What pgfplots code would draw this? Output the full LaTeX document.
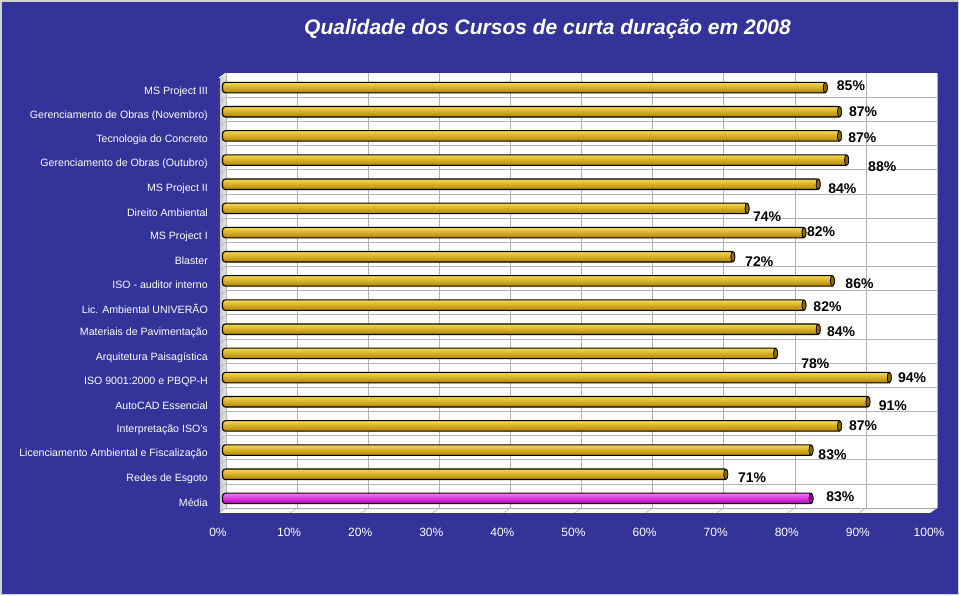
\documentclass[border=0pt]{standalone}
\usepackage{pgfplots}
\usepackage{pgfplotstable}
\pgfplotsset{compat=1.18}
\usepackage{fontspec}
\setmainfont{Liberation Sans}
\definecolor{bgblue}{HTML}{333399}
\definecolor{goldL}{HTML}{F8D850}
\definecolor{goldM}{HTML}{F2C000}
\definecolor{goldD}{HTML}{B08400}
\definecolor{capgold}{HTML}{8C6A00}
\definecolor{magL}{HTML}{FF70FF}
\definecolor{magM}{HTML}{FF00FF}
\definecolor{magD}{HTML}{B000B0}
\definecolor{capmag}{HTML}{900090}

\pgfplotstableread{
val cat
85 0
87 1
87 2
88 3
84 4
74 5
82 6
72 7
86 8
82 9
84 10
78 11
94 12
91 13
87 14
83 15
71 16
}\bars

\pgfplotstableread{
x y lab
85.9 0.04 85
87.6 1.11 87
87.5 2.19 87
90.3 3.39 88
84.7 4.30 84
74.1 5.46 74
81.7 6.08 82
73.0 7.32 72
87.1 8.23 86
82.6 9.18 82
84.5 10.22 84
80.9 11.54 78
94.5 12.12 94
91.8 13.28 91
87.6 14.10 87
83.3 15.30 83
72.0 16.26 71
84.4 17.04 83
}\labels

\begin{document}
\begin{tikzpicture}[x=1pt,y=1pt]
\fill[bgblue] (0,0) rectangle (959,-595);
\draw[gray!35, line width=1.5pt] (0.75,-0.75) rectangle (958.25,-594.25);
\node[font=\fontsize{21}{25}\selectfont\bfseries\itshape, text=white] at (547.5,-29) {Qualidade dos Cursos de curta duração em 2008};
\begin{axis}[
  at={(226pt,-73pt)}, anchor=north west,
  scale only axis, width=711pt, height=435pt,
  xmin=0, xmax=100, ymin=-0.5, ymax=17.5,
  y dir=reverse, clip=false,
  axis background/.style={fill=white},
  axis line style={draw=none},
  major tick length=0pt, minor tick length=0pt,
  xtick={0,10,...,100},
  xticklabels={0\%,10\%,20\%,30\%,40\%,50\%,60\%,70\%,80\%,90\%,100\%},
  xticklabel style={font=\fontsize{12}{14}\selectfont, text=white, inner sep=0pt, anchor=north, xshift=-8pt, yshift=-19.5pt},
  ytick={0,...,17},
  yticklabels={MS Project III, Gerenciamento de Obras (Novembro), Tecnologia do Concreto, Gerenciamento de Obras (Outubro), MS Project II, Direito Ambiental, MS Project I, Blaster, ISO - auditor interno, Lic. Ambiental UNIVERÃO, Materiais de Pavimentação, Arquitetura Paisagística, ISO 9001:2000 e PBQP-H, AutoCAD Essencial, Interpretação ISO's, Licenciamento Ambiental e Fiscalização, Redes de Esgoto, Média},
  yticklabel style={font=\fontsize{10.6}{12}\selectfont, text=white, inner sep=0pt, anchor=east, xshift=-18pt, yshift=-6.5pt},
  xmajorgrids,
  major grid style={gray!60, line width=0.6pt},
  minor ytick={0.5,1.5,...,16.5},
  yminorgrids,
  minor grid style={gray!60, line width=0.6pt},
]
% left wall
\fill[left color=gray!45, right color=gray!20] (axis cs:0,-0.5) -- (axis cs:0,17.5) -- ([shift={(-7pt,-5pt)}]axis cs:0,17.5) -- ([shift={(-7pt,-5pt)}]axis cs:0,-0.5) -- cycle;
\draw[white, line width=0.8pt] (axis cs:0,-0.5) -- ([shift={(-7pt,-5pt)}]axis cs:0,-0.5);
\pgfplotsinvokeforeach{0.5,1.5,...,16.5}{
  \draw[gray!70] (axis cs:0,#1) -- ([shift={(-7pt,-5pt)}]axis cs:0,#1);
}
% floor
\fill[gray!6] (axis cs:0,17.5) -- (axis cs:100,17.5) -- ([shift={(-7pt,-5pt)}]axis cs:100,17.5) -- ([shift={(-7pt,-5pt)}]axis cs:0,17.5) -- cycle;
\draw[gray!70] (axis cs:0,17.5) -- (axis cs:100,17.5);
\pgfplotsinvokeforeach{0,10,...,100}{
  \draw[gray!70] (axis cs:#1,17.5) -- ([shift={(-7pt,-5pt)}]axis cs:#1,17.5);
}
\draw[gray!50!black, line width=0.8pt] ([shift={(-7pt,-5pt)}]axis cs:0,17.5) -- ([shift={(-7pt,-5pt)}]axis cs:100,17.5);
\draw[gray!50!black, line width=0.8pt] ([shift={(-7pt,-5pt)}]axis cs:0,-0.5) -- ([shift={(-7pt,-5pt)}]axis cs:0,17.5);

% bars, one plot per bar so that each gets its own cylinder shading
\pgfplotsinvokeforeach{0,...,16}{
\addplot[xbar, bar width=10.5pt, bar shift=0pt, draw=black, line width=1.1pt,
  top color=goldL, middle color=goldM, bottom color=goldD,
  rounded corners=3pt, xshift=-3.5pt, yshift=-2.5pt]
  table[x=val, y=cat, restrict y to domain=#1:#1] {\bars};
}
\addplot[only marks, mark=*, mark size=5.25pt,
  mark options={xscale=0.4, fill=capgold, draw=black, line width=0.8pt},
  xshift=-5pt, yshift=-2.5pt]
  table[x=val, y=cat] {\bars};
% media
\addplot[xbar, bar width=10.5pt, bar shift=0pt, draw=black, line width=1.1pt,
  top color=magL, middle color=magM, bottom color=magD,
  rounded corners=3pt, xshift=-3.5pt, yshift=-2.5pt]
  coordinates {(83,17)};
\addplot[only marks, mark=*, mark size=5.25pt,
  mark options={xscale=0.4, fill=capmag, draw=black, line width=0.8pt},
  xshift=-5pt, yshift=-2.5pt]
  coordinates {(83,17)};
% labels
\addplot[only marks, mark=none, draw=none,
  nodes near coords={\pgfplotspointmeta\%},
  point meta=explicit symbolic,
  nodes near coords style={anchor=west, inner sep=0pt, font=\fontsize{14}{16}\selectfont\bfseries, text=black}]
  table[x=x, y=y, meta=lab] {\labels};
\end{axis}
\end{tikzpicture}
\end{document}
